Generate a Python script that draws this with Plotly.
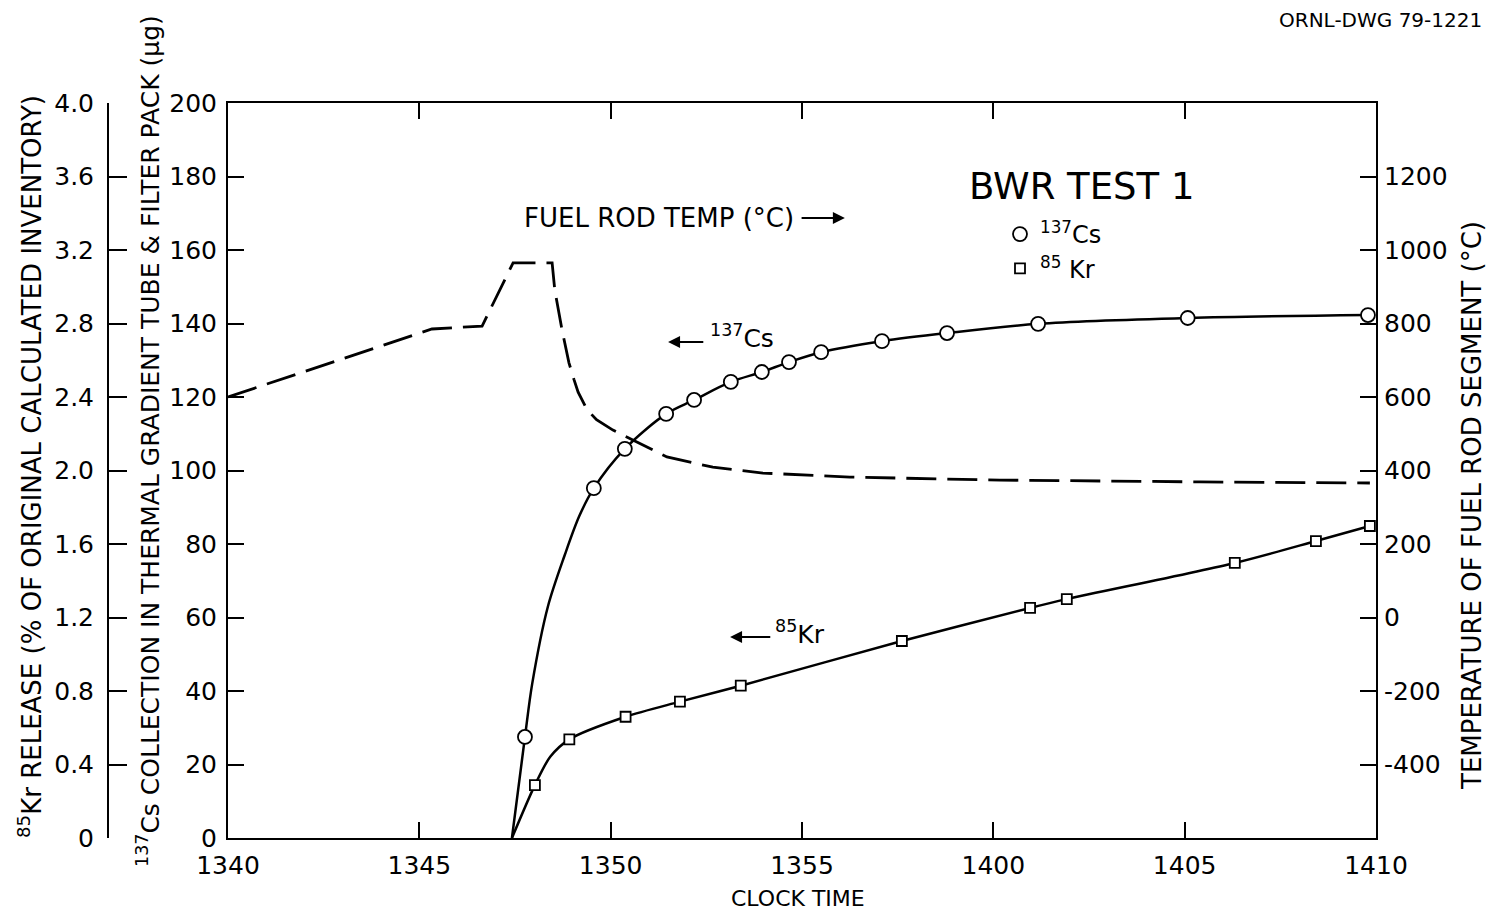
import plotly.graph_objects as go

# ---- data (time in minutes after 13:40 clock time) ----
tick_minutes = [0, 5, 10, 15, 20, 25, 30]
tick_labels = ["1340", "1345", "1350", "1355", "1400", "1405", "1410"]

# 137Cs collection (ug): plotted points
cs_t = [7.76, 9.56, 10.37, 11.45, 12.18, 13.14, 13.95, 14.66, 15.50, 17.09, 18.79, 21.17, 25.08, 29.79]
cs_v = [27.5, 95.2, 105.9, 115.4, 119.2, 124.1, 126.8, 129.5, 132.2, 135.2, 137.4, 139.9, 141.5, 142.3]
# drawn curve between onset and the second point
cs_lead_t = [7.42, 7.95, 8.36, 8.80, 9.18]
cs_lead_v = [0.0, 42.0, 63.0, 77.0, 87.6]

# 85Kr release (% of original calculated inventory)
kr_t = [8.02, 8.92, 10.39, 11.81, 13.40, 17.61, 20.96, 21.92, 26.31, 28.43, 29.84]
kr_v = [0.288, 0.537, 0.660, 0.742, 0.829, 1.072, 1.252, 1.300, 1.497, 1.616, 1.698]
kr_lead_t = [7.42, 8.42]
kr_lead_v = [0.0, 0.442]

# Fuel rod temperature (deg C), dashed curve
temp_t = [0.0, 5.33, 6.64, 7.45, 8.47, 8.54, 8.73, 8.91, 9.04, 9.15, 9.38, 9.63, 10.06, 10.58,
          11.47, 12.67, 13.98, 16.25, 20.17, 25.40, 29.84]
temp_v = [600, 785, 793, 965, 965, 891, 782, 693, 648, 613, 566, 538, 510, 483,
          437, 409, 393, 382, 374, 369, 366]

cs_ticks = [0, 20, 40, 60, 80, 100, 120, 140, 160, 180, 200]
kr_ticks = [0, 0.4, 0.8, 1.2, 1.6, 2.0, 2.4, 2.8, 3.2, 3.6, 4.0]
kr_ticktext = ["0", "0.4", "0.8", "1.2", "1.6", "2.0", "2.4", "2.8", "3.2", "3.6", "4.0"]
temp_ticks = [-400, -200, 0, 200, 400, 600, 800, 1000, 1200]
temp_ticktext = ["-400", "-200", "0", "200", "400", "600", "800", "1000", "1200"]

FONT = "DejaVu Sans"
OFF = 8                      # page body margin
W, H = 1494 - 2 * OFF, 919 - 2 * OFF
ML, MR, MT, MB = 32, 110, 95, 73
PW = W - ML - MR
PH = H - MT - MB


def px(xa):
    """absolute window x -> paper x"""
    return (xa - OFF - ML) / PW


def py(ya):
    """absolute window y -> paper y"""
    return (H - MB - (ya - OFF)) / PH


fig = go.Figure()


def merge(a_t, a_v, b_t, b_v):
    pts = sorted(zip(a_t + b_t, a_v + b_v))
    return [p[0] for p in pts], [p[1] for p in pts]


cl_t, cl_v = merge(cs_lead_t, cs_lead_v, cs_t, cs_v)
kl_t, kl_v = merge(kr_lead_t, kr_lead_v, kr_t, kr_v)

fig.add_trace(go.Scatter(x=cl_t, y=cl_v, mode="lines", yaxis="y",
                         line=dict(color="black", width=2.5, shape="spline", smoothing=0.9),
                         showlegend=False, hoverinfo="skip"))
fig.add_trace(go.Scatter(x=kl_t, y=kl_v, mode="lines", yaxis="y2",
                         line=dict(color="black", width=2.5, shape="spline", smoothing=0.8),
                         showlegend=False, hoverinfo="skip"))
fig.add_trace(go.Scatter(x=temp_t, y=temp_v, mode="lines", yaxis="y3",
                         line=dict(color="black", width=2.8, dash="30px,11px"),
                         showlegend=False, hoverinfo="skip"))
# markers
fig.add_trace(go.Scatter(x=cs_t, y=cs_v, mode="markers", yaxis="y", name="<sup>137</sup>Cs",
                         marker=dict(symbol="circle", size=14, color="white",
                                     line=dict(color="black", width=1.8)),
                         cliponaxis=False))
fig.add_trace(go.Scatter(x=kr_t, y=kr_v, mode="markers", yaxis="y2", name="<sup>85</sup> Kr",
                         marker=dict(symbol="square", size=10, color="white",
                                     line=dict(color="black", width=1.8)),
                         cliponaxis=False))

x0 = px(228)
TICKF = dict(size=25)

fig.update_layout(
    width=W, height=H,
    margin=dict(l=ML, r=MR, t=MT, b=MB, autoexpand=False),
    paper_bgcolor="white", plot_bgcolor="white",
    font=dict(family=FONT, color="black", size=22),
    xaxis=dict(domain=[x0, 1], range=[0, 30], tickvals=tick_minutes, ticktext=tick_labels,
               ticks="inside", ticklen=16, tickwidth=1.8, tickcolor="black",
               showline=True, linecolor="black", linewidth=2, mirror="ticks",
               showgrid=False, zeroline=False, tickfont=TICKF, automargin=False,
               ticklabelstandoff=4),
    yaxis=dict(range=[0, 200], tickvals=cs_ticks, ticks="inside", ticklen=16, tickwidth=1.8,
               tickcolor="black", showline=True, linecolor="black", linewidth=2,
               showgrid=False, zeroline=False, tickfont=TICKF, automargin=False,
               ticklabelstandoff=4),
    yaxis2=dict(range=[0, 4], tickvals=kr_ticks, ticktext=kr_ticktext, overlaying="y",
                anchor="free", position=px(108), side="left",
                ticks="inside", ticklen=18, tickwidth=1.8, tickcolor="black",
                showline=True, linecolor="black", linewidth=2,
                showgrid=False, zeroline=False, tickfont=TICKF, automargin=False,
                ticklabelstandoff=8),
    yaxis3=dict(range=[-600, 1400], tickvals=temp_ticks, ticktext=temp_ticktext, overlaying="y",
                anchor="x", side="right",
                ticks="inside", ticklen=16, tickwidth=1.8, tickcolor="black",
                showline=True, linecolor="black", linewidth=2,
                showgrid=False, zeroline=False, tickfont=TICKF, automargin=False,
                ticklabelstandoff=1),
    legend=dict(x=px(1000), y=py(212), xanchor="left", yanchor="top",
                bgcolor="rgba(0,0,0,0)", font=dict(size=24), tracegroupgap=0,
                itemwidth=30),
    showlegend=True,
)

ann = []
# axis titles
ann.append(dict(text="<sup>85</sup>Kr RELEASE (% OF ORIGINAL CALCULATED INVENTORY)",
                xref="paper", yref="paper", x=px(30), y=py(467), textangle=-90,
                showarrow=False, font=dict(size=26), xanchor="center", yanchor="middle"))
ann.append(dict(text="<sup>137</sup>Cs COLLECTION IN THERMAL GRADIENT TUBE & FILTER PACK (μg)",
                xref="paper", yref="paper", x=px(148), y=py(441), textangle=-90,
                showarrow=False, font=dict(size=25), xanchor="center", yanchor="middle"))
ann.append(dict(text="TEMPERATURE OF FUEL ROD SEGMENT (°C)",
                xref="paper", yref="paper", x=px(1472), y=py(505), textangle=-90,
                showarrow=False, font=dict(size=26), xanchor="center", yanchor="middle"))
ann.append(dict(text="CLOCK TIME", xref="paper", yref="paper", x=px(798), y=py(898),
                showarrow=False, font=dict(size=22), xanchor="center", yanchor="middle"))
ann.append(dict(text="ORNL-DWG 79-1221", xref="paper", yref="paper", x=px(1484), y=py(20),
                showarrow=False, font=dict(size=20), xanchor="right", yanchor="middle"))
# in-plot labels
ann.append(dict(text="BWR TEST 1", xref="x", yref="y", x=22.32, y=177.4,
                showarrow=False, font=dict(size=37), xanchor="center", yanchor="middle"))
ann.append(dict(text="FUEL ROD TEMP (°C)", xref="x", yref="y", x=14.85, y=168.7,
                showarrow=False, font=dict(size=26), xanchor="right", yanchor="middle"))
ann.append(dict(text="", xref="x", yref="y", x=16.12, y=168.7, axref="x", ayref="y",
                ax=14.95, ay=168.7, showarrow=True, arrowhead=2, arrowsize=1.2,
                arrowwidth=2, arrowcolor="black"))
ann.append(dict(text="<sup>137</sup>Cs", xref="x", yref="y", x=12.55, y=136.5,
                showarrow=False, font=dict(size=25), xanchor="left", yanchor="middle"))
ann.append(dict(text="", xref="x", yref="y", x=11.50, y=135.0, axref="x", ayref="y",
                ax=12.46, ay=135.0, showarrow=True, arrowhead=2, arrowsize=1.2,
                arrowwidth=2, arrowcolor="black"))
ann.append(dict(text="<sup>85</sup>Kr", xref="x", yref="y", x=14.25, y=56.0,
                showarrow=False, font=dict(size=25), xanchor="left", yanchor="middle"))
ann.append(dict(text="", xref="x", yref="y", x=13.12, y=54.7, axref="x", ayref="y",
                ax=14.21, ay=54.7, showarrow=True, arrowhead=2, arrowsize=1.2,
                arrowwidth=2, arrowcolor="black"))
fig.update_layout(annotations=ann)

fig.write_html("out.html")
